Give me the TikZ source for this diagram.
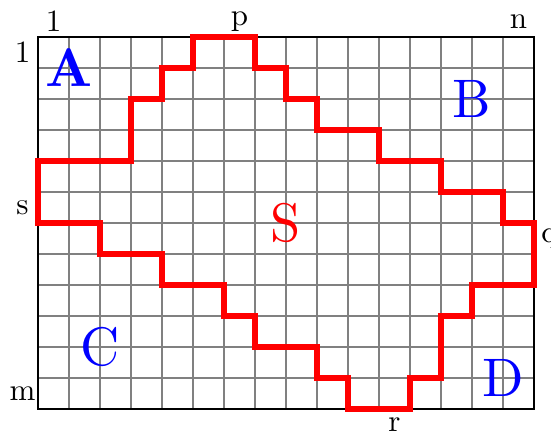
\documentclass[tikz,border=0pt]{standalone}
\usetikzlibrary{positioning}
\tikzset{
  cellgrid/.style={draw=black!50, line width=0.6pt},
  frame/.style={draw=black, line width=0.7pt},
  region/.style={draw=red, line width=1.7pt},
  idx/.style={inner sep=0pt, font=\normalsize},
  part/.style={text=blue, font=\normalsize, scale=1.75},
  sset/.style={text=red, font=\normalsize, scale=1.75}
}
\begin{document}
\begin{tikzpicture}[x=10pt, y=-10pt]
  \useasboundingbox (-1.226,-1.194) rectangle (16.548,12.742);
  % grid of cells
  \foreach \i in {1,...,15} \draw[cellgrid] (\i,0) -- (\i,12);
  \foreach \j in {1,...,11} \draw[cellgrid] (0,\j) -- (16,\j);
  \draw[frame] (0,0) rectangle (16,12);

  % boundary of S
  \draw[region] (5,0) -- (7,0) -- (7,1) -- (8,1) -- (8,2) -- (9,2) -- (9,3)
    -- (11,3) -- (11,4) -- (13,4) -- (13,5) -- (15,5) -- (15,6) -- (16,6)
    -- (16,8) -- (14,8) -- (14,9) -- (13,9) -- (13,11) -- (12,11) -- (12,12)
    -- (10,12) -- (10,11) -- (9,11) -- (9,10) -- (7,10) -- (7,9) -- (6,9)
    -- (6,8) -- (4,8) -- (4,7) -- (2,7) -- (2,6) -- (0,6) -- (0,4) -- (3,4)
    -- (3,2) -- (4,2) -- (4,1) -- (5,1) -- cycle;

  % row and column indices
  \node[idx] (c1) at (0.5,-0.5) {1};
  \node[idx] (cp) at (6.5,-0.5) {p};
  \node[idx] (cn) at (15.5,-0.5) {n};
  \node[idx] (r1) at (-0.5,0.5) {1};
  \node[idx] (rs) at (-0.5,5.5) {s};
  \node[idx] (rm) at (-0.5,11.5) {m};
  \node[idx] (rq) at (16.5,6.5) {q};
  \node[idx] (cr) at (11.5,12.5) {r};

  % regions
  \node[part] (A) at (1,1) {\textbf{A}};
  \node[part] (B) at (14,2) {B};
  \node[part] (C) at (2,10) {C};
  \node[part] (D) at (15,11) {D};
  \node[sset] (S) at (8,6) {S};
\end{tikzpicture}
\end{document}
